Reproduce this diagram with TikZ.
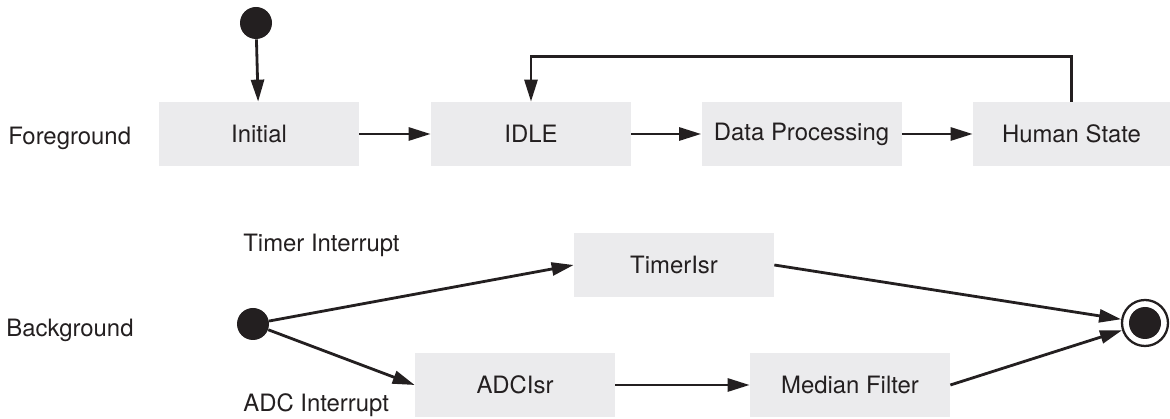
\documentclass[tikz,border=0pt]{standalone}
\usepackage{fontspec}
\setsansfont{TeX Gyre Heros}
\usetikzlibrary{arrows.meta}
\begin{document}
\begin{tikzpicture}[font=\sffamily\fontsize{13.6}{16}\selectfont]
  \definecolor{panel}{HTML}{EBEBED}
  \definecolor{ink}{HTML}{231F20}
  \useasboundingbox (0,0) rectangle (23.4,-8.38);
  \tikzset{state/.style={fill=panel,text=ink,minimum width=4cm,minimum height=1.28cm,inner sep=0pt},
    flow/.style={draw=ink,line width=1.6pt,-{Triangle[length=0.44cm,width=0.26cm]}},
    dot/.style={circle,fill=ink,minimum size=0.64cm,inner sep=0pt},
    lane/.style={text=ink,anchor=west,inner sep=0pt}}

  % Foreground: main loop
  \node[lane] (fg) at (0.16,-2.76) {Foreground};
  \node[dot] (fgstart) at (5.12,-0.46) {};
  \node[state] (initial) at (5.18,-2.68) {Initial};
  \node[state] (idle) at (10.62,-2.68) {IDLE};
  \node[state] (dataproc) at (16.03,-2.68) {Data Processing};
  \node[state,minimum width=3.94cm] (human) at (21.43,-2.68) {Human State};
  \draw[flow] (fgstart) -- (initial);
  \draw[flow] (initial) -- (idle);
  \draw[flow] (idle) -- (dataproc);
  \draw[flow] (dataproc) -- (human);
  \draw[flow] (human.north) -- ([yshift=0.9cm]human.north) -| (idle.north);

  % Background: interrupt handlers
  \node[lane] (bg) at (0.12,-6.6) {Background};
  \node[lane] (timerirq) at (4.86,-4.9) {Timer Interrupt};
  \node[lane] (adcirq) at (4.86,-8.1) {ADC Interrupt};
  \node[dot] (bgstart) at (5.06,-6.48) {};
  \node[state] (timerisr) at (13.48,-5.3) {TimerIsr};
  \node[state] (adcisr) at (10.3,-7.7) {ADCIsr};
  \node[state] (median) at (17,-7.7) {Median Filter};
  \node[circle,draw=ink,line width=1.3pt,minimum size=0.92cm,inner sep=0pt] (stop) at (22.9,-6.46) {};
  \node[dot] (stopdot) at (stop) {};
  \draw[flow] (bgstart) -- (timerisr.west);
  \draw[flow] (bgstart) -- (adcisr.west);
  \draw[flow] (adcisr) -- (median);
  \draw[flow] (timerisr.east) -- (stop);
  \draw[flow] (median.east) -- (stop);
\end{tikzpicture}
\end{document}
